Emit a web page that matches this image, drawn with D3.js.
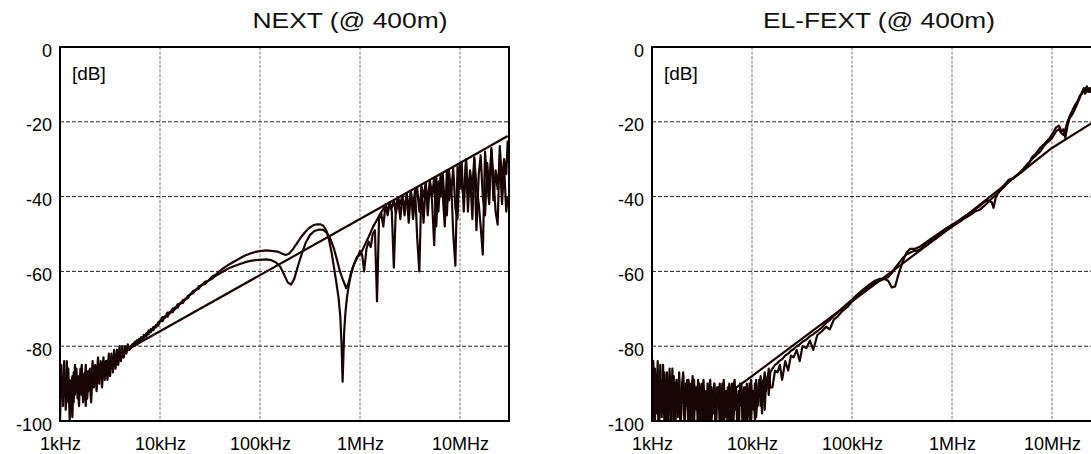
<!DOCTYPE html>
<html><head><meta charset="utf-8">
<script src="https://cdn.jsdelivr.net/npm/d3@7"></script>
<style>body{margin:0;background:#fff}svg{display:block}</style>
</head><body>
<svg id="chart" width="1091" height="454"></svg>
<script>
// Frequencies are in kHz, levels in dB.
const freqTicks = [1, 10, 100, 1000, 10000];
const freqTickLabels = ['1kHz', '10kHz', '100kHz', '1MHz', '10MHz'];
const dbTicks = [0, -20, -40, -60, -80, -100];

// sweep grid of the low-frequency (noisy) part
const lowFreqKHz = [1.00,1.03,1.07,1.10,1.14,1.17,1.21,1.25,1.29,1.33,1.37,1.41,1.46,1.50,1.55,1.60,1.65,1.70,1.76,1.81,1.87,1.93,1.99,2.05,2.12,2.18,2.25,2.32,2.40,2.47,2.55,2.63,2.72,2.80,2.89,2.98,3.08,3.17,3.27,3.38,3.48,3.59,3.71,3.82,3.94,4.07,4.20,4.33,4.47,4.61,4.76,4.91,5.06,5.22,5.39,5.56,5.73,5.92,6.10,6.30,6.50,6.70,6.92,7.14,7.36,7.60,7.84,8.09,8.34,8.61,8.88,9.16,9.46,9.76,10.07,10.4,10.7,11.0,11.4,11.8,12.2,12.6,13.0,13.4,13.8,14.3,14.7,15.2];
// sweep grid of the high-frequency part (NEXT)
const hiFreqKHz = [1000,1050,1100,1160,1220,1280,1340,1410,1480,1550,1630,1710,1800,1890,1980,2080,2180,2290,2410,2530,2650,2790,2930,3070,3230,3390,3560,3730,3920,4120,4320,4540,4760,5000,5250,5520,5790,6080,6390,6710,7040,7390,7760,8150,8560,8990,9440,9910,10400,10900,11500,12000,12600,13300,13900,14600,15400,16100,16900,17800,18700,19600,20600,21600,22700,23800,25000,26300,27600,29000,30000];

// ---- NEXT ----
const nextLimit = [[1,-91],[10,-76],[100,-61],[1000,-46],[10000,-31],[30000,-23.8]];

const nextALow = [-91,-85,-96,-88,-93,-84,-95,-89,-92,-99,-87,-93,-86,-94,-88,-91,-85,-95,-89,-96,-87,-92,-86,-90,-84,-91,-86,-89,-83,-90,-85,-88,-83,-89,-84,-87,-82,-88,-83,-86,-81,-86,-82,-84,-80,-84,-81,-83,-80,-82,-79.5,-81];
const nextAMid = [[5.3,-80],[5.6,-78.8],[5.9,-79.6],[6.2,-78],[6.5,-78.6],[6.9,-77],[7.3,-77.4],[7.7,-75.8],[8.1,-76.2],[8.6,-74.8],[9.1,-75],[9.6,-73.6],[10,-73.4],[10.6,-72.2],[11.2,-72.4],[11.9,-71],[12.6,-71.2],[13.4,-69.9],[14.2,-70.1],[15,-68.8],[16,-68.7],[17,-67.6],[18,-67.6],[19,-66.5],[20,-66.3],[21.5,-65.2],[23,-65],[24.5,-63.9],[26,-63.8],[28,-62.8],[30,-62.6],[33,-61.4],[36,-60.9],[40,-59.8],[45,-58.8],[50,-58],[60,-56.8],[70,-55.8],[80,-55.2],[90,-54.8],[100,-54.6],[115,-54.4],[130,-54.5],[150,-54.7],[165,-55.2],[180,-55.6],[195,-55.3],[210,-54.3],[230,-52.8],[255,-51],[280,-49.6],[310,-48.4],[340,-47.7],[370,-47.4],[400,-47.4],[430,-47.8],[460,-49],[490,-51.5],[520,-55],[550,-59],[580,-63],[610,-67],[635,-72],[655,-80],[670,-89.5],[680,-84],[695,-76],[715,-71],[740,-67],[770,-64],[810,-61],[860,-58.5],[920,-56.5],[970,-55.5]];
const nextAHigh = [-54.5,-55.5,-60,-54,-52,-53.5,-50,-49,-68,-46,-44.5,-48,-42,-45,-41.5,-44,-59,-42,-40.5,-46,
  -40,-43,-39.3,-47,-38.8,-42.5,-38.2,-51,-60,-37.2,
  -40,-36.6,-45,-36.2,-41,-53,-35,-44,-34.3,-39,
  -48,-33.4,-41,-36,-50,-58.5,-32,-38,-31,-44,
  -30.5,-39,-34,-46,-30,-37,-42,-48,-55.5,-28,
  -36,-42,-27,-35,-44,-47.5,-26.5,-36,-30,-34,
  -25];

const nextBLow = [-100,-88,-94,-84,-97,-90,-86,-100,-91,-88,-95,-85,-92,-89,-96,-86,-93,-88,-91,-85,-94,-88,-90,-95,-87,-89,-85,-92,-87,-88,-84,-91,-86,-87,-84,-89,-85,-86,-82,-87,-84,-85,-81,-85,-82,-83,-80,-83,-81,-81.5,-80,-80.5];
const nextBMid = [[5.3,-79.5],[5.6,-79.2],[5.9,-78.4],[6.2,-78.9],[6.5,-77.6],[6.9,-77.9],[7.3,-76.5],[7.7,-76.8],[8.1,-75.4],[8.6,-75.7],[9.1,-74.3],[9.6,-74.5],[10,-73.2],[10.6,-73.3],[11.2,-72],[11.9,-72.1],[12.6,-70.8],[13.4,-70.9],[14.2,-69.6],[15,-69.7],[16,-68.4],[17,-68.4],[18,-67.2],[19,-67.2],[20,-66.1],[21.5,-65.8],[23,-64.8],[24.5,-64.6],[26,-63.6],[28,-63.4],[30,-62.6],[33,-62],[36,-61.2],[40,-60.5],[45,-59.7],[50,-59],[60,-58.2],[70,-57.6],[80,-57.2],[90,-57],[100,-56.9],[115,-56.8],[130,-57],[145,-57.6],[160,-58.8],[175,-61],[190,-63],[205,-63.5],[220,-62],[240,-58.5],[260,-55.5],[285,-52.5],[315,-50.3],[350,-49.2],[390,-48.8],[430,-48.9],[470,-49.8],[510,-51.5],[550,-54],[590,-57],[630,-60],[680,-62.5],[730,-64.5],[770,-63],[820,-60],[880,-57.8],[950,-56]];
const nextBHigh = [-55.5,-54.5,-53.3,-52,-50.8,-49.5,-48.3,-47.2,-46.2,-45.2,-44.2,-43.3,-42.6,-43.5,-41.8,-43,-41,-44.5,-40.5,-42,
  -39.8,-45,-39.5,-43,-38.6,-46,-40,-37.6,-44,-37.5,
  -47,-36.5,-42,-35.6,-40,-35,-48,-36,-40,-33.8,
  -42,-45,-33,-39,-32.5,-43,-46,-31.5,-37,-40,
  -30,-44,-33,-38,-29.5,-49,-34,-29,-40,-45,
  -31,-38,-27.5,-41,-33,-38,-29,-42,-32,-44,
  -40];

// ---- EL-FEXT ----
const fextLimit = [[7,-91],[10,-88],[100,-68],[1000,-48],[10000,-27],[30000,-19]];

const fextCLow = [-83,-102,-86,-98,-84,-104,-89,-96,-85,-101,-90,-87,-103,-88,-97,-86,-105,-91,-89,-99,-87,-102,-92,-88,-104,-90,-96,-89,-103,-93,-88,-101,-91,-97,-89,-105,-94,-90,-100,-92,-104,-90,-95,-103,-91,-98,-90,-106,-93,-91,-102,-95,-90,-104,-92,-97,-91,-105,-93,-90,-101,-94,-91,-103,-92,-96,-90,-104,-93,-91,-100,-95,-90,-101,-92,-97,-90,-99,-93,-89,-96,-91,-89,-97,-90,-88,-93,-87];
const fextCMid = [[16,-86],[17,-85],[18,-84.5],[19,-83.8],[20,-83.5],[21.5,-82.5],[23,-82],[24.5,-81.2],[26,-80.8],[28,-80],[30,-79.5],[32,-78.8],[35,-78.2],[38,-77.3],[41,-76.8],[45,-76],[50,-75],[55,-73.8],[60,-73],[66,-71.8],[72,-71],[80,-69.8],[90,-68.6],[100,-67.5],[115,-66],[130,-64.8],[150,-63.5],[170,-62.5],[190,-62],[210,-62],[230,-62.5],[250,-64.3],[270,-64],[290,-61],[320,-57.5],[350,-55],[380,-54],[420,-54],[470,-53.5],[530,-52.5],[600,-51.5],[680,-50.5],[770,-49.5],[870,-48.5],[1000,-47.5],[1150,-46.5],[1300,-45.5],[1500,-44.5],[1700,-43.5],[1900,-42.5],[2100,-41.5],[2300,-41],[2500,-41.5],[2600,-43],[2750,-40],[3000,-38.5],[3300,-37],[3700,-35.5],[4100,-35],[4600,-34],[5200,-33],[5800,-31.5],[6300,-29.5],[6900,-28.5],[7600,-27],[8300,-26],[9000,-25],[9500,-24.3],[10200,-23],[11000,-21.5],[11700,-21],[12400,-22.5],[13000,-22],[13600,-24.3],[14300,-21],[15000,-19],[16000,-18],[17000,-16.5],[18000,-15],[19000,-13.5],[20000,-12],[20800,-11],[21500,-12.5],[22300,-10.5],[23200,-12],[24000,-11],[25000,-11.5],[26000,-10.5]];

const fextDLow = [-95,-84,-100,-88,-93,-103,-85,-99,-91,-87,-104,-90,-94,-86,-101,-92,-88,-106,-90,-97,-89,-103,-91,-87,-99,-94,-89,-104,-90,-92,-102,-89,-95,-91,-106,-90,-93,-101,-89,-97,-92,-104,-91,-89,-100,-94,-90,-103,-91,-96,-90,-105,-93,-89,-99,-92,-104,-90,-94,-102,-91,-89,-97,-93,-105,-90,-92,-99,-91,-103,-90,-95,-100,-89,-94,-92,-100,-89,-96,-91,-88,-98,-90,-87,-92,-89,-86,-91];
const fextDMid = [[16,-91],[17,-86.5],[18,-87],[19,-85],[20,-89],[21.5,-84],[23,-86.5],[24.5,-82.5],[26,-83],[28,-81],[30,-84],[32,-80],[35,-80.5],[38,-78.5],[41,-81],[45,-77],[50,-76],[55,-74.8],[60,-75.5],[66,-72.8],[72,-72],[80,-70.6],[90,-69.5],[100,-68],[115,-66.5],[130,-65.5],[150,-64],[170,-63],[190,-62.5],[210,-62],[230,-61.5],[250,-60.5],[270,-59],[290,-58],[320,-56.5],[350,-55.5],[380,-55],[420,-54.5],[470,-54.3],[530,-53],[600,-52],[680,-51],[770,-50],[870,-49],[1000,-48],[1150,-47],[1300,-46],[1500,-45],[1700,-44],[1900,-43.5],[2100,-42.5],[2300,-41.5],[2500,-40.5],[2750,-39.5],[3000,-38.5],[3300,-37.5],[3700,-36],[4100,-35],[4600,-34],[5200,-32.5],[5800,-31],[6300,-30],[6900,-29],[7600,-28],[8300,-26.5],[9000,-25.5],[9500,-25],[10200,-24],[11000,-22.5],[11700,-22],[12400,-23],[13000,-23.5],[13600,-22],[14300,-20],[15000,-18.5],[16000,-17],[17000,-15.5],[18000,-14.5],[19000,-13],[20000,-12.5],[20800,-11.5],[21500,-11],[22300,-12],[23200,-11],[24000,-12],[25000,-11],[26000,-11.5]];

function zip(freqs, vals) { return vals.map((v, i) => [freqs[i], v]); }

const panels = [
  { id: 'next', title: 'NEXT (@ 400m)', left: 60, titleCx: 350, titleLen: 195,
    series: [nextLimit,
             zip(lowFreqKHz, nextALow).concat(nextAMid, zip(hiFreqKHz, nextAHigh)),
             zip(lowFreqKHz, nextBLow).concat(nextBMid, zip(hiFreqKHz, nextBHigh))] },
  { id: 'fext', title: 'EL-FEXT (@ 400m)', left: 652, titleCx: 879, titleLen: 232,
    series: [fextLimit,
             zip(lowFreqKHz, fextCLow).concat(fextCMid),
             zip(lowFreqKHz, fextDLow).concat(fextDMid)] }
];

const W = 449, TOP = 47, BOTTOM = 421;
const FONT = '"Liberation Sans", Arial, Helvetica, sans-serif';
const INK = '#1a0505';
const svg = d3.select('#chart');

panels.forEach(p => {
  const x = d3.scaleLog().domain([1, 30900]).range([p.left, p.left + W]);
  const y = d3.scaleLinear().domain([-100, 0]).range([BOTTOM, TOP]);
  const g = svg.append('g');

  // title
  g.append('text')
    .attr('x', p.titleCx - p.titleLen / 2).attr('y', 28)
    .attr('textLength', p.titleLen).attr('lengthAdjust', 'spacingAndGlyphs')
    .style('font-family', FONT).style('font-size', '22px').attr('fill', '#111')
    .text(p.title);

  // grid
  g.append('g').selectAll('line').data(freqTicks.slice(1)).join('line')
    .attr('x1', d => x(d)).attr('x2', d => x(d))
    .attr('y1', TOP).attr('y2', BOTTOM)
    .attr('stroke', '#7a7a7a').attr('stroke-width', 1).attr('stroke-dasharray', '3,1.5');
  g.append('g').selectAll('line').data(dbTicks.slice(1, -1)).join('line')
    .attr('x1', p.left).attr('x2', p.left + W)
    .attr('y1', d => y(d)).attr('y2', d => y(d))
    .attr('stroke', '#222').attr('stroke-width', 1).attr('stroke-dasharray', '4,2');

  // data
  const clipId = 'clip-' + p.id;
  svg.append('clipPath').attr('id', clipId).append('rect')
    .attr('x', p.left).attr('y', TOP).attr('width', W).attr('height', BOTTOM - TOP);
  const line = d3.line().x(d => x(d[0])).y(d => y(d[1]));
  g.append('g').attr('clip-path', `url(#${clipId})`)
    .selectAll('path').data(p.series).join('path')
    .attr('d', line).attr('fill', 'none').attr('stroke', INK)
    .attr('stroke-width', 2.2).attr('stroke-linejoin', 'round');

  // frame
  g.append('rect').attr('x', p.left).attr('y', TOP).attr('width', W).attr('height', BOTTOM - TOP)
    .attr('fill', 'none').attr('stroke', '#000').attr('stroke-width', 2);

  // axes
  const xAxis = d3.axisBottom(x).tickValues(freqTicks)
    .tickFormat((d, i) => freqTickLabels[i]).tickSize(0).tickPadding(16);
  const gx = g.append('g').attr('transform', `translate(0,${BOTTOM})`).call(xAxis);
  gx.select('.domain').remove();
  gx.selectAll('text').style('font-family', FONT).style('font-size', '18px').attr('fill', '#000');

  const yAxis = d3.axisLeft(y).tickValues(dbTicks).tickFormat(d => String(d)).tickSize(0).tickPadding(8);
  const gy = g.append('g').attr('transform', `translate(${p.left},0)`).call(yAxis);
  gy.select('.domain').remove();
  gy.selectAll('text').attr('dy', '0.5em').style('font-family', FONT).style('font-size', '18px').attr('fill', '#000');

  // unit label
  g.append('text').attr('x', p.left + 12).attr('y', 80)
    .style('font-family', FONT).style('font-size', '19px').attr('fill', '#000').text('[dB]');
});
</script>
</body></html>
